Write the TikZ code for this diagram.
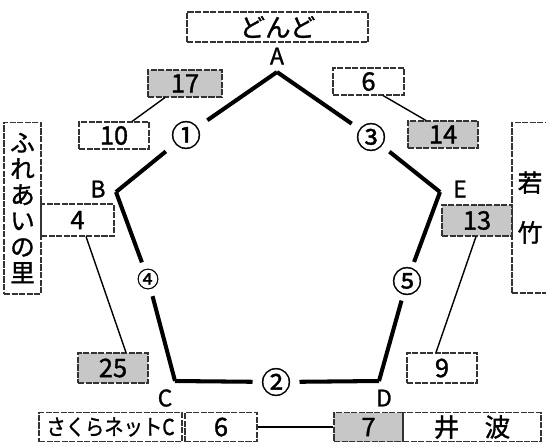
\documentclass[tikz,border=0pt]{standalone}
\usepackage{fontspec}
\setmainfont{Noto Sans CJK JP}[RawFeature={embolden=1.2}]
\tikzset{
  box/.style={draw=black!80, line width=0.6pt, dash pattern=on 3.5pt off 0.8pt, inner sep=0pt,
    font=\fontsize{14.5}{16}\selectfont},
  shadebox/.style={box, fill=black!22},
  edge/.style={line width=2.3pt},
  link/.style={line width=0.8pt},
  vlabel/.style={inner sep=0pt, font=\fontsize{13}{14}\selectfont},
  road/.style={circle, inner sep=0pt, outer sep=0pt, font=\fontsize{17}{17}\selectfont}
}
\begin{document}
\begin{tikzpicture}[x=0.02cm, y=-0.02cm]
\clip (0,0) rectangle (546,441);

\coordinate (A) at (277,72);
\coordinate (B) at (116,192);
\coordinate (C) at (175,381);
\coordinate (D) at (379,381);
\coordinate (E) at (440,192);

\node[vlabel] (lA) at (277,56) {A};
\node[vlabel] (lB) at (98,189) {B};
\node[vlabel] (lC) at (165,398) {C};
\node[vlabel] (lD) at (384,398) {D};
\node[vlabel] (lE) at (460,189) {E};

\node[road, minimum size=1.04cm] (r1) at (186,135) {①};
\node[road, minimum size=0.94cm] (r2) at (276,382) {②};
\node[road, minimum size=0.94cm] (r3) at (371,137) {③};
\node[road, minimum size=0.71cm, font=\fontsize{12.5}{12.5}\selectfont] (r4) at (148,279) {④};
\node[road, minimum size=0.70cm] (r5) at (407,281) {⑤};

\draw[edge] (A) -- (r1);
\draw[edge] (r1) -- (B);
\draw[edge] (B) -- (r4);
\draw[edge] (r4) -- (C);
\draw[edge] (C) -- (r2);
\draw[edge] (r2) -- (D);
\draw[edge] (D) -- (r5);
\draw[edge] (r5) -- (E);
\draw[edge] (E) -- (r3);
\draw[edge] (r3) -- (A);

\node[box, minimum width=3.62cm, minimum height=0.60cm] (dondo) at (277.5,27) {どんど};
\node[shadebox, minimum width=1.48cm, minimum height=0.54cm] (b17) at (185,83.5) {17};
\node[box, minimum width=1.40cm, minimum height=0.54cm] (b10) at (114,135.5) {10};
\node[box, minimum width=1.42cm, minimum height=0.54cm] (b6t) at (368.5,81.5) {6};
\node[shadebox, minimum width=1.40cm, minimum height=0.54cm] (b14) at (443,134.5) {14};

\node[box, minimum width=0.74cm, minimum height=3.44cm, align=center,
  font=\fontsize{14}{14.8}\selectfont] (fureai) at (22.5,208) {ふ\\れ\\あ\\い\\の\\里};
\node[box, minimum width=1.46cm, minimum height=0.64cm] (b4) at (77.5,220) {4};
\node[shadebox, minimum width=1.40cm, minimum height=0.60cm] (b25) at (113,368) {25};

\node[box, minimum width=0.72cm, minimum height=3.42cm, align=center,
  font=\fontsize{14}{28.4}\selectfont] (waka) at (530,207.5) {若\\竹};
\node[shadebox, minimum width=1.40cm, minimum height=0.62cm] (b13) at (477,220.5) {13};
\node[box, minimum width=1.40cm, minimum height=0.60cm] (b9) at (442,368) {9};

\node[box, minimum width=2.86cm, minimum height=0.58cm,
  font=\fontsize{12.5}{13}\selectfont] (sakura) at (110.5,427) {\scalebox{0.88}[1]{さくらネットC}};
\node[box, minimum width=1.44cm, minimum height=0.58cm] (b6b) at (221,427) {6};
\node[shadebox, minimum width=1.38cm, minimum height=0.58cm] (b7) at (368.5,427) {7};
\node[box, minimum width=2.76cm, minimum height=0.58cm] (inami) at (472,427) {井\quad 波};

\draw[link] ([xshift=0.36cm]b10.north) -- ([xshift=-0.40cm]b17.south);
\draw[link] ([xshift=0.29cm]b6t.south) -- ([xshift=-0.34cm]b14.north);
\draw[link] ([xshift=0.17cm]b4.south) -- ([xshift=0.26cm]b25.north);
\draw[link] ([xshift=-0.02cm]b13.south) -- ([xshift=-0.12cm]b9.north);
\draw[link] (b6b.east) -- (b7.west);
\end{tikzpicture}
\end{document}
